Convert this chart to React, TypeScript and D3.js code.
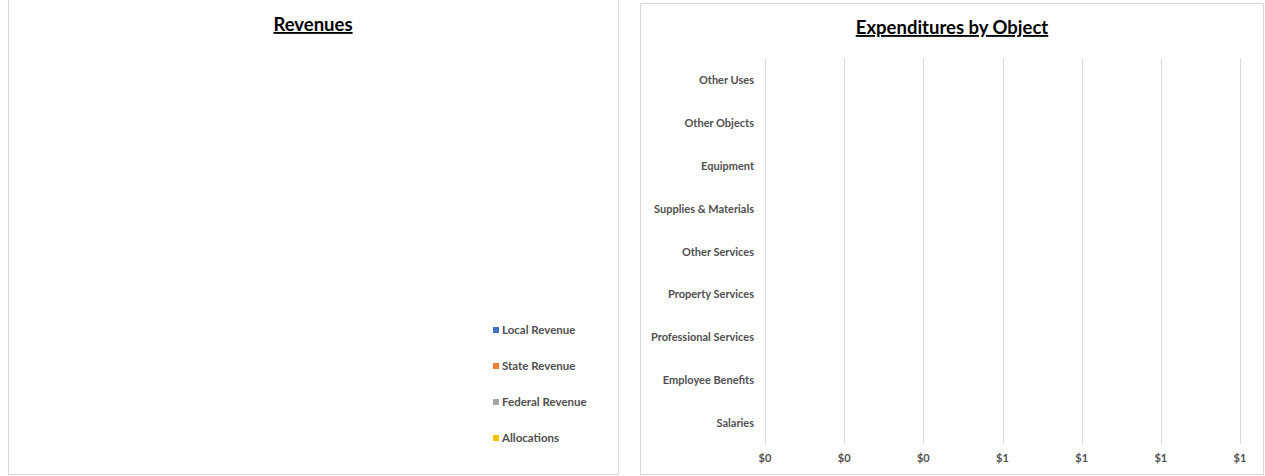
import React from "react";
import * as d3 from "d3";

const revenueCategories = ["Local Revenue", "State Revenue", "Federal Revenue", "Allocations"];
const revenueValues = [0, 0, 0, 0];
const revenueColors = ["#4472C4", "#ED7D31", "#A5A5A5", "#FFC000"];

const expenditureCategories = [
  "Salaries",
  "Employee Benefits",
  "Professional Services",
  "Property Services",
  "Other Services",
  "Supplies & Materials",
  "Equipment",
  "Other Objects",
  "Other Uses",
];
const expenditureValues = [0, 0, 0, 0, 0, 0, 0, 0, 0];
const xTicks = [0, 0.2, 0.4, 0.6, 0.8, 1.0, 1.2];

const FONT = "Lato, 'Open Sans', sans-serif";
const TXT = "#505050";

export default function App() {
  // Left panel
  const pie = d3.pie<number>().sort(null)(revenueValues);
  const arc = d3.arc<d3.PieArcDatum<number>>().innerRadius(0).outerRadius(150);
  const total = d3.sum(revenueValues);

  // Right panel
  const x = d3.scaleLinear().domain([0, 1.2]).range([765, 1240]);
  const y = d3
    .scaleBand<string>()
    .domain([...expenditureCategories].reverse())
    .range([59, 444])
    .paddingInner(0.5)
    .paddingOuter(0.25);
  const yBand = d3.scaleBand<string>().domain([...expenditureCategories].reverse()).range([59, 444]);

  return (
    <svg
      width={1265}
      height={476}
      style={{ position: "absolute", left: 0, top: 0, background: "#fff" }}
      fontFamily={FONT}
    >
      {/* Left panel */}
      <rect x={8.5} y={-1} width={610} height={475.5} fill="#fff" stroke="#d9d9d9" />
      <text x={313} y={31} textAnchor="middle" fontSize={18.5} fontWeight={700} fill="#000" textDecoration="underline">
        Revenues
      </text>
      {total > 0 && (
        <g transform="translate(250,250)">
          {pie.map((p, i) => (
            <path key={i} d={arc(p) || ""} fill={revenueColors[i]} />
          ))}
        </g>
      )}
      {revenueCategories.map((c, i) => (
        <g key={c} transform={`translate(493, ${330 + i * 36})`}>
          <rect x={0} y={-3} width={6} height={6} fill={revenueColors[i]} />
          <text x={9} y={4} fontSize={11.5} fontWeight={700} fill={TXT}>
            {c}
          </text>
        </g>
      ))}

      {/* Right panel */}
      <rect x={640.5} y={3.5} width={623} height={471} fill="#fff" stroke="#d9d9d9" />
      <text x={952} y={34} textAnchor="middle" fontSize={18.5} fontWeight={700} fill="#000" textDecoration="underline">
        Expenditures by Object
      </text>
      {xTicks.map((t) => (
        <g key={t}>
          <line x1={Math.round(x(t)) + 0.5} x2={Math.round(x(t)) + 0.5} y1={59} y2={444} stroke="#d9d9d9" />
          <text x={x(t)} y={462} textAnchor="middle" fontSize={11} fontWeight={700} fill={TXT}>
            {"$" + d3.format(".0f")(t)}
          </text>
        </g>
      ))}
      {expenditureCategories.map((c, i) => (
        <g key={c}>
          <rect x={x(0)} y={y(c)} width={x(expenditureValues[i]) - x(0)} height={y.bandwidth()} fill="#4472C4" />
          <text
            x={754}
            y={(yBand(c) || 0) + yBand.bandwidth() / 2 + 4}
            textAnchor="end"
            fontSize={11}
            fontWeight={700}
            fill={TXT}
          >
            {c}
          </text>
        </g>
      ))}
    </svg>
  );
}
